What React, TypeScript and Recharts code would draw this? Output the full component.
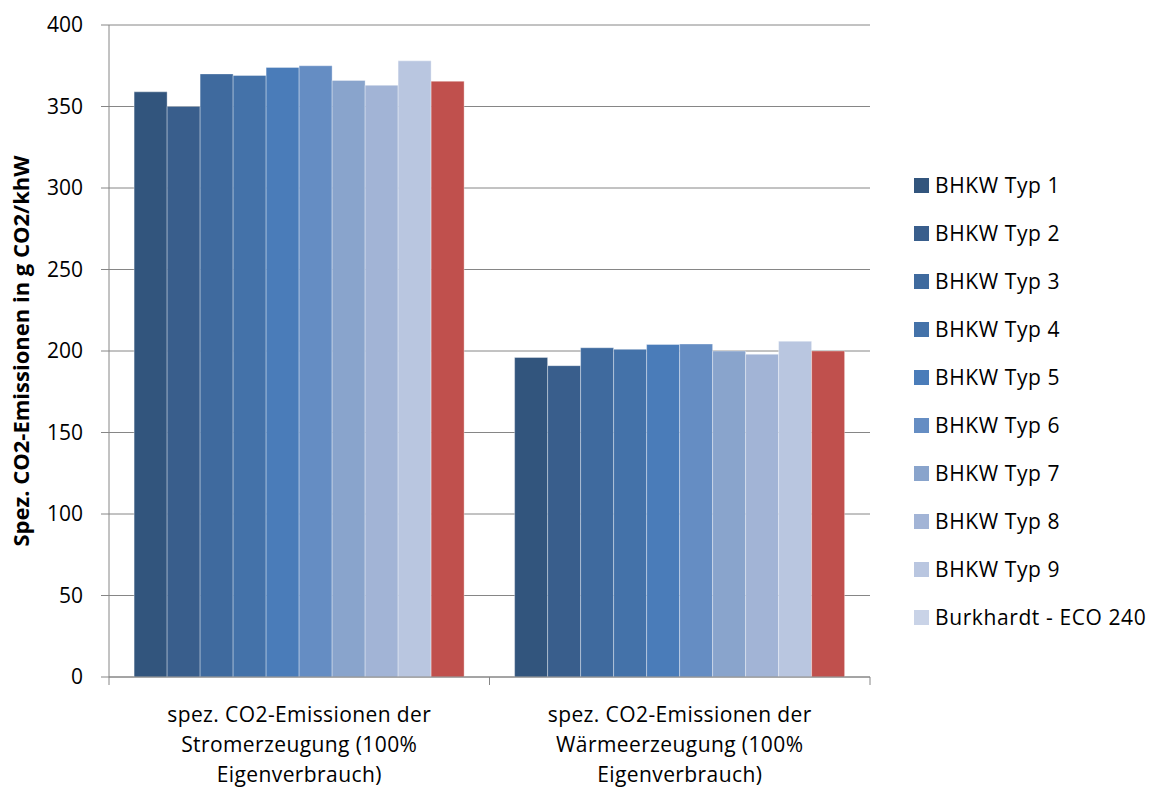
import { BarChart, Bar, XAxis, YAxis, CartesianGrid } from "recharts";

const categories = [
  "spez. CO2-Emissionen der Stromerzeugung (100% Eigenverbrauch)",
  "spez. CO2-Emissionen der Wärmeerzeugung (100% Eigenverbrauch)",
];
const categoryLines = [
  ["spez. CO2-Emissionen der", "Stromerzeugung (100%", "Eigenverbrauch)"],
  ["spez. CO2-Emissionen der", "Wärmeerzeugung (100%", "Eigenverbrauch)"],
];

const seriesNames = [
  "BHKW Typ 1",
  "BHKW Typ 2",
  "BHKW Typ 3",
  "BHKW Typ 4",
  "BHKW Typ 5",
  "BHKW Typ 6",
  "BHKW Typ 7",
  "BHKW Typ 8",
  "BHKW Typ 9",
  "Burkhardt - ECO 240",
];

const stromValues = [359, 350, 370, 369, 374, 375, 366, 363, 378, 365.5];
const waermeValues = [196, 191, 202, 201, 204, 204.3, 200, 198, 206, 200];

const barColors = [
  "#32557d", "#395e8c", "#3f6a9e", "#4472a9", "#4a7cb9",
  "#658dc3", "#89a4cc", "#a2b4d6", "#b9c6e0", "#c0504d",
];
const legendColors = [
  "#32557d", "#395e8c", "#3f6a9e", "#4472a9", "#4a7cb9",
  "#658dc3", "#89a4cc", "#a2b4d6", "#b9c6e0", "#c9d3e7",
];

const yTicks = [0, 50, 100, 150, 200, 250, 300, 350, 400];

const data = categories.map((name, ci) => {
  const row: Record<string, string | number> = { name };
  seriesNames.forEach((s, si) => {
    row[s] = ci === 0 ? stromValues[si] : waermeValues[si];
  });
  return row;
});

const FONT = "'Open Sans', Lato, sans-serif";
const PLOT_LEFT = 109;
const PLOT_RIGHT = 870;
const band = (PLOT_RIGHT - PLOT_LEFT) / categories.length;

function CategoryTick(props: any) {
  const { x, y, index } = props;
  const lines = categoryLines[index] || [];
  return (
    <g>
      <line x1={x - band / 2} y1={y - 8} x2={x - band / 2} y2={y} stroke="#868686" />
      <line x1={x + band / 2} y1={y - 8} x2={x + band / 2} y2={y} stroke="#868686" />
      <text
        textAnchor="middle"
        fontFamily={FONT}
        fontSize={21}
        letterSpacing={0.4}
        fill="#000"
      >
        {lines.map((l: string, i: number) => (
          <tspan key={i} x={x} y={y + 37 + i * 30}>
            {l}
          </tspan>
        ))}
      </text>
    </g>
  );
}

function YLabel() {
  return (
    <text
      x={0}
      y={0}
      transform="translate(29, 351) rotate(-90)"
      textAnchor="middle"
      fontFamily={FONT}
      fontSize={22}
      fontWeight={700}
      fill="#000"
    >
      Spez. CO2-Emissionen in g CO2/khW
    </text>
  );
}

function LegendBox() {
  return (
    <div
      style={{
        position: "absolute",
        left: 914,
        top: 161,
        fontFamily: FONT,
        fontSize: 21,
        letterSpacing: 0.6,
        color: "#000",
      }}
    >
      {seriesNames.map((s, i) => (
        <div key={s} style={{ display: "flex", alignItems: "center", height: 48 }}>
          <span
            style={{
              display: "inline-block",
              width: 15,
              height: 15,
              background: legendColors[i],
              marginRight: 6,
            }}
          />
          <span style={{ whiteSpace: "nowrap" }}>{s}</span>
        </div>
      ))}
    </div>
  );
}

export default function App() {
  return (
    <div style={{ position: "absolute", left: 0, top: 0, width: 1156, height: 788, background: "#fff" }}>
      <BarChart
        width={1156}
        height={788}
        data={data}
        margin={{ top: 25, right: 1156 - PLOT_RIGHT, bottom: 0, left: 49 }}
        barCategoryGap="6.6%"
        barGap={0}
      >
        <CartesianGrid vertical={false} stroke="#868686" />
        <XAxis
          dataKey="name"
          height={111}
          stroke="#868686"
          tickLine={false}
          tick={<CategoryTick />}
          interval={0}
        />
        <YAxis
          width={60}
          domain={[0, 400]}
          ticks={yTicks}
          stroke="#868686"
          tickSize={8}
          tickMargin={18}
          tick={{ fontFamily: FONT, fontSize: 21, fill: "#000" }}
        />
        {seriesNames.map((s, i) => (
          <Bar
            key={s}
            dataKey={s}
            fill={barColors[i]}
            stroke="#ffffff"
            strokeOpacity={0.35}
            strokeWidth={1}
            isAnimationActive={false}
          />
        ))}
        <YLabel />
      </BarChart>
      <LegendBox />
    </div>
  );
}
